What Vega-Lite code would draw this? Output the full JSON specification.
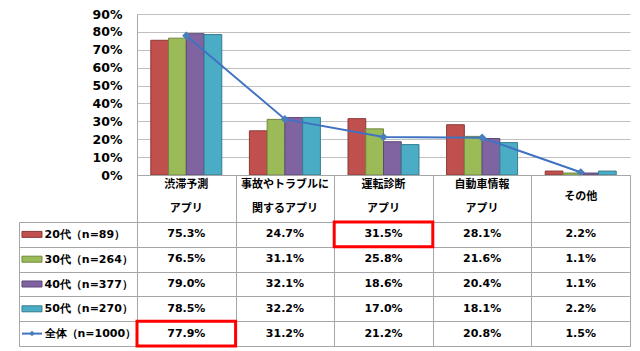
{
  "$schema": "https://vega.github.io/schema/vega-lite/v6.json",
  "padding": {"left": 17, "top": 8, "right": 0, "bottom": 0},
  "background": "#ffffff",
  "columns": 2,
  "spacing": 0,
  "bounds": "flush",
  "resolve": {"scale": {"x": "independent", "y": "independent", "color": "shared", "stroke": "shared"}},
  "config": {
    "font": "DejaVu Sans",
    "view": {"stroke": null},
    "axis": {"labelFont": "DejaVu Sans", "labelColor": "#000000", "labelFontWeight": "bold"},
    "text": {"font": "DejaVu Sans", "fontWeight": "bold", "color": "#000000"}
  },
  "datasets": {
    "d": [
      {"series": "20代（n=89）", "cat": "渋滞予測アプリ", "value": 0.753, "highlight": false},
      {"series": "30代（n=264）", "cat": "渋滞予測アプリ", "value": 0.765, "highlight": false},
      {"series": "40代（n=377）", "cat": "渋滞予測アプリ", "value": 0.790, "highlight": false},
      {"series": "50代（n=270）", "cat": "渋滞予測アプリ", "value": 0.785, "highlight": false},
      {"series": "全体（n=1000）", "cat": "渋滞予測アプリ", "value": 0.779, "highlight": true},
      {"series": "20代（n=89）", "cat": "事故やトラブルに関するアプリ", "value": 0.247, "highlight": false},
      {"series": "30代（n=264）", "cat": "事故やトラブルに関するアプリ", "value": 0.311, "highlight": false},
      {"series": "40代（n=377）", "cat": "事故やトラブルに関するアプリ", "value": 0.321, "highlight": false},
      {"series": "50代（n=270）", "cat": "事故やトラブルに関するアプリ", "value": 0.322, "highlight": false},
      {"series": "全体（n=1000）", "cat": "事故やトラブルに関するアプリ", "value": 0.312, "highlight": false},
      {"series": "20代（n=89）", "cat": "運転診断アプリ", "value": 0.315, "highlight": true},
      {"series": "30代（n=264）", "cat": "運転診断アプリ", "value": 0.258, "highlight": false},
      {"series": "40代（n=377）", "cat": "運転診断アプリ", "value": 0.186, "highlight": false},
      {"series": "50代（n=270）", "cat": "運転診断アプリ", "value": 0.170, "highlight": false},
      {"series": "全体（n=1000）", "cat": "運転診断アプリ", "value": 0.212, "highlight": false},
      {"series": "20代（n=89）", "cat": "自動車情報アプリ", "value": 0.281, "highlight": false},
      {"series": "30代（n=264）", "cat": "自動車情報アプリ", "value": 0.216, "highlight": false},
      {"series": "40代（n=377）", "cat": "自動車情報アプリ", "value": 0.204, "highlight": false},
      {"series": "50代（n=270）", "cat": "自動車情報アプリ", "value": 0.181, "highlight": false},
      {"series": "全体（n=1000）", "cat": "自動車情報アプリ", "value": 0.208, "highlight": false},
      {"series": "20代（n=89）", "cat": "その他", "value": 0.022, "highlight": false},
      {"series": "30代（n=264）", "cat": "その他", "value": 0.011, "highlight": false},
      {"series": "40代（n=377）", "cat": "その他", "value": 0.011, "highlight": false},
      {"series": "50代（n=270）", "cat": "その他", "value": 0.022, "highlight": false},
      {"series": "全体（n=1000）", "cat": "その他", "value": 0.015, "highlight": false}
    ],
    "hdr": [
      {"cat": "渋滞予測アプリ", "slot": "上", "text": "渋滞予測"},
      {"cat": "渋滞予測アプリ", "slot": "下", "text": "アプリ"},
      {"cat": "事故やトラブルに関するアプリ", "slot": "上", "text": "事故やトラブルに"},
      {"cat": "事故やトラブルに関するアプリ", "slot": "下", "text": "関するアプリ"},
      {"cat": "運転診断アプリ", "slot": "上", "text": "運転診断"},
      {"cat": "運転診断アプリ", "slot": "下", "text": "アプリ"},
      {"cat": "自動車情報アプリ", "slot": "上", "text": "自動車情報"},
      {"cat": "自動車情報アプリ", "slot": "下", "text": "アプリ"},
      {"cat": "その他", "slot": "中", "text": "その他"}
    ],
    "lab": [
      {"series": "20代（n=89）"},
      {"series": "30代（n=264）"},
      {"series": "40代（n=377）"},
      {"series": "50代（n=270）"},
      {"series": "全体（n=1000）"}
    ]
  },
  "concat": [
    {
      "width": 118, "height": 161,
      "data": {"values": []},
      "mark": "point"
    },
    {
      "width": 493, "height": 161,
      "data": {"name": "d"},
      "encoding": {
        "x": {"field": "cat", "type": "nominal", "sort": null,
          "scale": {"domain": ["渋滞予測アプリ", "事故やトラブルに関するアプリ", "運転診断アプリ", "自動車情報アプリ", "その他"], "paddingInner": 0.28, "paddingOuter": 0.14},
          "axis": {"labels": false, "ticks": false, "title": null, "grid": false, "domainColor": "#a6a6a6"}},
        "y": {"field": "value", "type": "quantitative",
          "scale": {"domain": [0, 0.9], "nice": false},
          "axis": {"values": [0, 0.1, 0.2, 0.3, 0.4, 0.5, 0.6, 0.7, 0.8, 0.9], "format": ".0%", "title": null, "ticks": false, "tickSize": 0, "labelPadding": 15, "labelFontSize": 12.5, "labelOverlap": false, "labelBound": false, "gridColor": "#c0c0c0", "gridOpacity": 1, "domainColor": "#a6a6a6"}}
      },
      "layer": [
        {
          "transform": [{"filter": "datum.series !== '全体（n=1000）'"}],
          "mark": {"type": "bar", "strokeWidth": 1},
          "encoding": {
            "xOffset": {"field": "series", "type": "nominal",
              "scale": {"domain": ["20代（n=89）", "30代（n=264）", "40代（n=377）", "50代（n=270）"], "paddingInner": 0, "paddingOuter": 0}},
            "color": {"field": "series", "type": "nominal",
              "scale": {"domain": ["20代（n=89）", "30代（n=264）", "40代（n=377）", "50代（n=270）", "全体（n=1000）"], "range": ["#C0504D", "#9BBB59", "#8064A2", "#4BACC6", "#3F72C2"]},
              "legend": null},
            "stroke": {"field": "series", "type": "nominal",
              "scale": {"domain": ["20代（n=89）", "30代（n=264）", "40代（n=377）", "50代（n=270）", "全体（n=1000）"], "range": ["#8C3836", "#71893F", "#5C4776", "#357D91", "#2F5597"]},
              "legend": null}
          }
        },
        {
          "transform": [{"filter": "datum.series === '全体（n=1000）'"}],
          "mark": {"type": "line", "color": "#3F72C2", "strokeWidth": 2}
        },
        {
          "transform": [{"filter": "datum.series === '全体（n=1000）'"}],
          "mark": {"type": "point", "shape": "diamond", "filled": true, "size": 70, "color": "#4A7EBB", "opacity": 1}
        }
      ]
    },
    {
      "width": 118, "height": 47,
      "data": {"values": []},
      "mark": "point"
    },
    {
      "width": 493, "height": 47,
      "data": {"name": "hdr"},
      "view": {"stroke": "#a6a6a6"},
      "mark": {"type": "text", "fontSize": 11, "fontWeight": "bold", "font": "Noto Sans CJK JP", "baseline": "middle"},
      "encoding": {
        "x": {"field": "cat", "type": "nominal", "sort": null,
          "scale": {"domain": ["渋滞予測アプリ", "事故やトラブルに関するアプリ", "運転診断アプリ", "自動車情報アプリ", "その他"], "paddingInner": 0, "paddingOuter": 0},
          "axis": {"grid": true, "tickBand": "extent", "labels": false, "ticks": false, "domain": false, "title": null, "gridColor": "#a6a6a6", "gridOpacity": 1}},
        "y": {"field": "slot", "type": "ordinal", "sort": null,
          "scale": {"type": "point", "domain": ["上", "中", "下"], "padding": 1.24, "align": 0.44},
          "axis": null},
        "text": {"field": "text", "type": "nominal"}
      }
    },
    {
      "width": 118, "height": 124,
      "data": {"name": "lab"},
      "view": {"stroke": "#a6a6a6"},
      "encoding": {
        "x": {"datum": 0.11, "type": "quantitative", "scale": {"domain": [0, 1]}, "axis": null},
        "y": {"field": "series", "type": "nominal", "sort": null,
          "scale": {"domain": ["20代（n=89）", "30代（n=264）", "40代（n=377）", "50代（n=270）", "全体（n=1000）"], "paddingInner": 0, "paddingOuter": 0},
          "axis": {"grid": true, "tickBand": "extent", "ticks": false, "tickSize": 0, "domain": false, "title": null, "labelAlign": "left", "labelPadding": -25, "labelFontSize": 11, "labelFont": "DejaVu Sans", "gridColor": "#a6a6a6", "gridOpacity": 1}}
      },
      "layer": [
        {
          "transform": [{"filter": "datum.series !== '全体（n=1000）'"}],
          "mark": {"type": "point", "shape": "M-1,-0.3H1V0.3H-1Z", "size": 400, "filled": true, "opacity": 1, "strokeWidth": 1},
          "encoding": {
            "color": {"field": "series", "type": "nominal", "legend": null},
            "stroke": {"field": "series", "type": "nominal", "legend": null}
          }
        },
        {
          "transform": [{"filter": "datum.series === '全体（n=1000）'"}],
          "mark": {"type": "point", "shape": "M-1,0H1", "size": 400, "filled": false, "stroke": "#3F72C2", "strokeWidth": 2, "opacity": 1}
        },
        {
          "transform": [{"filter": "datum.series === '全体（n=1000）'"}],
          "mark": {"type": "point", "shape": "diamond", "size": 30, "filled": true, "color": "#4A7EBB", "opacity": 1}
        }
      ]
    },
    {
      "width": 493, "height": 124,
      "data": {"name": "d"},
      "view": {"stroke": "#a6a6a6"},
      "encoding": {
        "x": {"field": "cat", "type": "nominal", "sort": null,
          "scale": {"domain": ["渋滞予測アプリ", "事故やトラブルに関するアプリ", "運転診断アプリ", "自動車情報アプリ", "その他"], "paddingInner": 0, "paddingOuter": 0},
          "axis": {"grid": true, "tickBand": "extent", "labels": false, "ticks": false, "domain": false, "title": null, "gridColor": "#a6a6a6", "gridOpacity": 1}},
        "y": {"field": "series", "type": "nominal", "sort": null,
          "scale": {"domain": ["20代（n=89）", "30代（n=264）", "40代（n=377）", "50代（n=270）", "全体（n=1000）"], "paddingInner": 0, "paddingOuter": 0},
          "axis": {"grid": true, "tickBand": "extent", "labels": false, "ticks": false, "domain": false, "title": null, "gridColor": "#a6a6a6", "gridOpacity": 1}}
      },
      "layer": [
        {
          "mark": {"type": "text", "fontSize": 11, "fontWeight": "bold", "baseline": "middle"},
          "encoding": {"text": {"field": "value", "type": "quantitative", "format": ".1%"}}
        },
        {
          "transform": [{"filter": "datum.highlight"}],
          "mark": {"type": "rect", "filled": false, "color": "#FF0000", "strokeWidth": 3}
        }
      ]
    }
  ]
}
